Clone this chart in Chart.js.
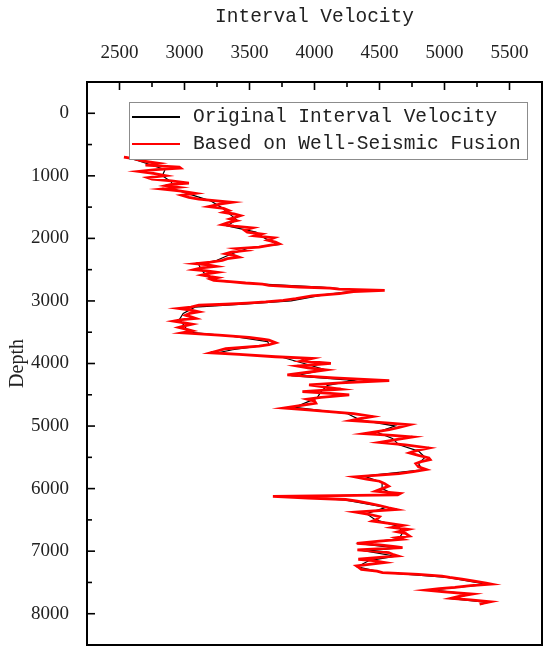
<!DOCTYPE html>
<html>
<head>
<meta charset="utf-8">
<title>Interval Velocity</title>
<script src="https://cdn.jsdelivr.net/npm/chart.js@4.4.1/dist/chart.umd.min.js"></script>
<style>
  html, body { margin: 0; padding: 0; background: #fff; }
  #wrap { width: 550px; height: 654px; }
</style>
</head>
<body>
<div id="wrap"><canvas id="chart" width="550" height="654"></canvas></div>
<script>
// tick labels
const xTicks = [2500, 3000, 3500, 4000, 4500, 5000, 5500];
const yTicks = [0, 1000, 2000, 3000, 4000, 5000, 6000, 7000, 8000];

// series names
const seriesNames = ["Original Interval Velocity", "Based on Well-Seismic Fusion"];

// original interval velocity (black)
const origDepth = [700, 760, 830, 900, 1000, 1100, 1200, 1300, 1400, 1500, 1600, 1700, 1800, 1900,
  2000, 2100, 2150, 2250, 2350, 2420, 2500, 2600, 2680, 2730, 2780, 2830, 2900, 3000, 3050, 3100,
  3200, 3300, 3400, 3500, 3560, 3650, 3700, 3780, 3830, 3900, 4000, 4100, 4200, 4270, 4350, 4450,
  4550, 4700, 4800, 4900, 5000, 5100, 5200, 5300, 5400, 5500, 5600, 5700, 5800, 5900, 6000, 6100,
  6125, 6180, 6300, 6400, 6500, 6600, 6700, 6800, 6880, 6950, 7000, 7080, 7150, 7250, 7340, 7420,
  7530, 7620, 7690, 7760, 7820, 7846];
const origVel = [2550, 2650, 2750, 2850, 2830, 2900, 2900, 3050, 3200, 3280, 3340, 3400, 3330, 3550,
  3620, 3720, 3500, 3360, 3250, 3110, 3130, 3170, 3250, 3600, 4050, 4350, 4080, 3820, 3450, 3080,
  2990, 2960, 3000, 3030, 3350, 3640, 3650, 3370, 3250, 3750, 3920, 4080, 3850, 4300, 4100, 4050,
  4020, 3850, 4250, 4350, 4620, 4480, 4600, 4650, 4800, 4850, 4800, 4830, 4380, 4520, 4520, 4620,
  3750, 4230, 4550, 4400, 4470, 4640, 4680, 4650, 4350, 4640, 4400, 4620, 4420, 4330, 4520, 5020,
  5330, 4900, 5200, 5060, 5330, 5280];

// well-seismic fusion (red)
const fusionDepth = [
  700, 730, 760, 800, 830, 860, 876, 900, 930, 960,
  998, 1030, 1051, 1080, 1115, 1135, 1158, 1185, 1210, 1240,
  1280, 1310, 1343, 1372, 1400, 1423, 1450, 1492, 1520, 1556,
  1584, 1610, 1637, 1662, 1690, 1717, 1750, 1779, 1805, 1832,
  1866, 1901, 1930, 1960, 1991, 2030, 2060, 2086, 2110, 2140,
  2165, 2193, 2220, 2246, 2270, 2299, 2325, 2352, 2380, 2405,
  2425, 2447, 2470, 2500, 2520, 2543, 2565, 2586, 2610, 2627,
  2650, 2670, 2690, 2713, 2730, 2750, 2777, 2795, 2810, 2830,
  2850, 2883, 2920, 2962, 2990, 3016, 3035, 3053, 3069, 3100,
  3121, 3150, 3175, 3200, 3228, 3255, 3280, 3300, 3323, 3350,
  3371, 3400, 3424, 3450, 3478, 3510, 3546, 3583, 3610, 3626,
  3669, 3700, 3721, 3764, 3800, 3828, 3855, 3892, 3918, 3960,
  3997, 4040, 4070, 4103, 4140, 4183, 4230, 4274, 4310, 4342,
  4380, 4411, 4449, 4480, 4502, 4540, 4570, 4600, 4634, 4670,
  4713, 4740, 4768, 4800, 4847, 4880, 4911, 4950, 4979, 5020,
  5059, 5090, 5122, 5150, 5175, 5210, 5240, 5261, 5300, 5350,
  5390, 5430, 5470, 5510, 5537, 5570, 5600, 5650, 5696, 5730,
  5760, 5813, 5850, 5882, 5920, 5962, 6000, 6041, 6078, 6100,
  6125, 6150, 6174, 6200, 6237, 6270, 6306, 6333, 6376, 6410,
  6449, 6490, 6519, 6550, 6588, 6620, 6651, 6690, 6715, 6757,
  6784, 6810, 6840, 6874, 6900, 6927, 6943, 6980, 7000, 7022,
  7050, 7076, 7100, 7129, 7150, 7182, 7210, 7236, 7260, 7290,
  7320, 7342, 7370, 7400, 7420, 7447, 7480, 7510, 7527, 7550,
  7580, 7600, 7623, 7650, 7686, 7720, 7755, 7780, 7809, 7830,
  7846];
const fusionVel = [
  2534, 2620, 2674, 2800, 2700, 2960, 2970, 2780, 2649, 2760,
  2854, 2720, 2751, 2900, 3034, 2900, 2854, 2950, 2828, 2960,
  3085, 2980, 3034, 3110, 3250, 3367, 3280, 3188, 3300, 3342,
  3300, 3380, 3430, 3393, 3350, 3400, 3330, 3290, 3380, 3522,
  3460, 3483, 3590, 3540, 3689, 3640, 3700, 3727, 3650, 3573,
  3400, 3470, 3360, 3317, 3380, 3419, 3330, 3291, 3200, 3086,
  3180, 3240, 3130, 3072, 3170, 3252, 3180, 3136, 3200, 3252,
  3200, 3226, 3350, 3470, 3600, 3650, 3881, 4120, 4190, 4540,
  4300, 4190, 3980, 3856, 3760, 3625, 3480, 3317, 3111, 3050,
  2957, 3060, 3111, 3040, 3008, 3050, 3086, 2980, 2918, 3000,
  3059, 3000, 2957, 3010, 3059, 2982, 3265, 3496, 3600, 3650,
  3702, 3650, 3573, 3317, 3250, 3200, 3420, 3700, 3984, 3900,
  4126, 3868, 3950, 4087, 3950, 3791, 4150, 4575, 4200, 3958,
  4100, 4203, 3907, 4150, 4267, 4050, 3945, 4000, 4010, 3900,
  3766, 3950, 4113, 4300, 4446, 4350, 4280, 4550, 4729, 4650,
  4575, 4480, 4382, 4600, 4754, 4650, 4560, 4500, 4700, 4880,
  4790, 4730, 4800, 4880, 4890, 4820, 4780, 4800, 4860, 4760,
  4650, 4310, 4400, 4500, 4540, 4570, 4520, 4470, 4660, 4640,
  3680, 3950, 4240, 4330, 4420, 4500, 4570, 4630, 4320, 4420,
  4500, 4480, 4446, 4560, 4680, 4600, 4720, 4640, 4700, 4730,
  4630, 4675, 4500, 4325, 4500, 4620, 4677, 4330, 4450, 4570,
  4600, 4640, 4500, 4337, 4450, 4540, 4420, 4323, 4340, 4360,
  4480, 4523, 4800, 4980, 5040, 5135, 5230, 5320, 5360, 5200,
  5080, 4960, 4860, 5000, 5215, 5120, 5050, 5200, 5350, 5300,
  5270];

const toPoints = (vel, depth) => vel.map((v, i) => ({ x: v, y: depth[i] }));

// frame, inward ticks and the boxed legend
const framePlugin = {
  id: "frame",
  afterDatasetsDraw(chart) {
    const { ctx, chartArea: a, scales } = chart;
    ctx.save();
    ctx.strokeStyle = "#000";
    ctx.lineWidth = 1.6;

    const tick = (x1, y1, x2, y2) => {
      ctx.beginPath();
      ctx.moveTo(x1, y1);
      ctx.lineTo(x2, y2);
      ctx.stroke();
    };
    xTicks.forEach((v, i) => {
      const px = scales.x.getPixelForValue(v);
      tick(px, a.top, px, a.top + 8);
      if (i < xTicks.length - 1) {
        const mx = scales.x.getPixelForValue((v + xTicks[i + 1]) / 2);
        tick(mx, a.top, mx, a.top + 5);
      }
    });
    yTicks.forEach((v, i) => {
      const py = scales.y.getPixelForValue(v);
      tick(a.left, py, a.left + 8, py);
      if (i < yTicks.length - 1) {
        const my = scales.y.getPixelForValue((v + yTicks[i + 1]) / 2);
        tick(a.left, my, a.left + 5, my);
      }
    });

    ctx.lineWidth = 2;
    ctx.strokeRect(a.left, a.top, a.right - a.left, a.bottom - a.top);

    // legend
    const lx = a.left + 42, ly = a.top + 20, lw = 398, lh = 57;
    ctx.fillStyle = "#fff";
    ctx.fillRect(lx, ly, lw, lh);
    ctx.lineWidth = 1;
    ctx.strokeStyle = "#8c8c8c";
    ctx.strokeRect(lx + 0.5, ly + 0.5, lw, lh);
    ctx.font = "19.5px 'Liberation Mono', monospace";
    ctx.textBaseline = "middle";
    chart.data.datasets.forEach((ds, i) => {
      const cy = ly + 15 + i * 27;
      ctx.strokeStyle = ds.borderColor;
      ctx.lineWidth = 2;
      tick(lx + 3, cy, lx + 51, cy);
      ctx.fillStyle = "#222";
      ctx.fillText(ds.label, lx + 64, cy);
    });
    ctx.restore();
  }
};

new Chart(document.getElementById("chart"), {
  type: "scatter",
  data: {
    datasets: [
      {
        label: seriesNames[0],
        data: toPoints(origVel, origDepth),
        showLine: true,
        borderColor: "#000000",
        borderWidth: 1.2,
        pointRadius: 0,
        order: 2
      },
      {
        label: seriesNames[1],
        data: toPoints(fusionVel, fusionDepth),
        showLine: true,
        borderColor: "#ff0000",
        borderWidth: 2.8,
        pointRadius: 0,
        order: 1
      }
    ]
  },
  options: {
    responsive: false,
    animation: false,
    layout: { padding: { top: 0, left: 0, right: 8, bottom: 9 } },
    plugins: {
      legend: { display: false },
      tooltip: { enabled: false }
    },
    scales: {
      x: {
        type: "linear",
        position: "top",
        min: 2250,
        max: 5750,
        grid: { display: false },
        border: { display: false },
        afterBuildTicks: (s) => { s.ticks = xTicks.map((v) => ({ value: v })); },
        afterFit: (s) => { s.height = 82; s.paddingLeft = 0; s.paddingRight = 0; },
        ticks: {
          padding: 10,
          color: "#222",
          callback: (v) => String(v),
          font: { family: "'Liberation Serif', serif", size: 19 }
        },
        title: {
          display: true,
          text: "Interval Velocity",
          color: "#222",
          padding: { top: 5, bottom: 0 },
          font: { family: "'Liberation Mono', monospace", size: 19.5 }
        }
      },
      y: {
        type: "linear",
        reverse: true,
        min: -500,
        max: 8500,
        grid: { display: false },
        border: { display: false },
        afterBuildTicks: (s) => { s.ticks = yTicks.map((v) => ({ value: v })); },
        afterFit: (s) => { s.width = 87; s.paddingTop = 0; s.paddingBottom = 0; },
        ticks: {
          padding: 10,
          color: "#222",
          callback: (v) => String(v),
          font: { family: "'Liberation Serif', serif", size: 19 }
        },
        title: {
          display: true,
          text: "Depth",
          color: "#222",
          padding: { top: 6, bottom: 0 },
          font: { family: "'Liberation Serif', serif", size: 20 }
        }
      }
    }
  },
  plugins: [framePlugin]
});
</script>
</body>
</html>
